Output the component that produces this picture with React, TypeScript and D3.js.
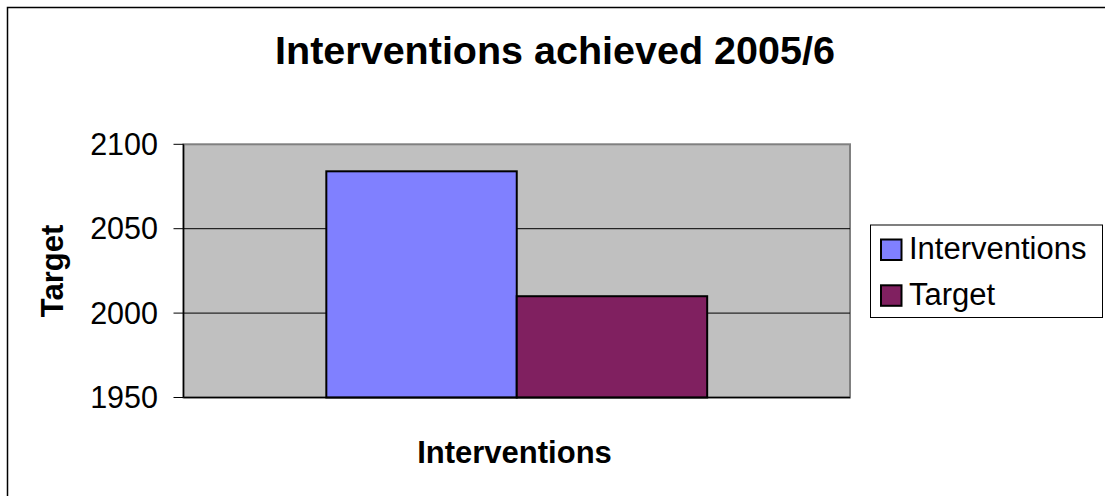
import React from "react";
import * as d3 from "d3";

// Chart data
const categories: string[] = ["Interventions"];
const seriesNames: string[] = ["Interventions", "Target"];
const seriesValues: number[] = [2084, 2010];
const seriesColors: string[] = ["#8080FF", "#802060"];
const yTicks: number[] = [1950, 2000, 2050, 2100];

const title = "Interventions achieved 2005/6";
const xTitle = "Interventions";
const yTitle = "Target";

const W = 1105;
const H = 496;
const FONT = "'Liberation Sans', Arial, Helvetica, sans-serif";

export default function App() {
  const plot = { left: 183.5, right: 850, top: 144.3, bottom: 397.5 };

  const x0 = d3
    .scaleBand<string>()
    .domain(categories)
    .range([plot.left, plot.right])
    .paddingInner(0)
    .paddingOuter(0.375);
  const x1 = d3
    .scaleBand<string>()
    .domain(seriesNames)
    .range([0, x0.bandwidth()])
    .padding(0);
  const y = d3.scaleLinear().domain([1950, 2100]).range([plot.bottom, plot.top]);

  const legend = { x: 870.5, y: 225, w: 232, h: 92.5 };

  return (
    <svg
      width={W}
      height={H}
      style={{ position: "absolute", left: 0, top: 0, background: "#fff" }}
      fontFamily={FONT}
    >
      <rect x={0} y={0} width={W} height={H} fill="#fff" />
      {/* chart area frame */}
      <rect x={7.5} y={7.5} width={W + 20} height={H + 20} fill="none" stroke="#000" strokeWidth={1.5} />

      {/* title */}
      <text x={555} y={64.3} textAnchor="middle" fontSize={39.5} fontWeight="bold" fill="#000">
        {title}
      </text>

      {/* plot area */}
      <rect
        x={plot.left}
        y={plot.top}
        width={plot.right - plot.left}
        height={plot.bottom - plot.top}
        fill="#C0C0C0"
        stroke="#808080"
        strokeWidth={2}
      />

      {/* gridlines */}
      {yTicks
        .filter((t) => t !== 1950 && t !== 2100)
        .map((t) => (
          <line key={`g${t}`} x1={plot.left} x2={plot.right} y1={y(t)} y2={y(t)} stroke="#000" strokeWidth={1} />
        ))}

      {/* bars */}
      {categories.map((c) => (
        <g key={c} transform={`translate(${x0(c)},0)`}>
          {seriesNames.map((s, i) => (
            <rect
              key={s}
              x={x1(s)}
              y={y(seriesValues[i])}
              width={x1.bandwidth()}
              height={y(1950) - y(seriesValues[i])}
              fill={seriesColors[i]}
              stroke="#000"
              strokeWidth={2}
            />
          ))}
        </g>
      ))}

      {/* axes */}
      <line x1={plot.left} x2={plot.left} y1={plot.top} y2={plot.bottom} stroke="#000" strokeWidth={1.5} />
      <line x1={plot.left} x2={plot.right} y1={plot.bottom} y2={plot.bottom} stroke="#000" strokeWidth={1.5} />
      {yTicks.map((t) => (
        <g key={`t${t}`}>
          <line x1={plot.left - 10} x2={plot.left} y1={y(t)} y2={y(t)} stroke="#000" strokeWidth={1} />
          <text x={158} y={y(t) + 10.5} textAnchor="end" fontSize={30.5} fill="#000">
            {t}
          </text>
        </g>
      ))}

      {/* axis titles */}
      <text x={514.5} y={462.7} textAnchor="middle" fontSize={31} fontWeight="bold" fill="#000">
        {xTitle}
      </text>
      <text
        transform={`translate(63,271) rotate(-90)`}
        textAnchor="middle"
        fontSize={31}
        fontWeight="bold"
        fill="#000"
      >
        {yTitle}
      </text>

      {/* legend */}
      <rect x={legend.x} y={legend.y} width={legend.w} height={legend.h} fill="#fff" stroke="#000" strokeWidth={1} />
      {seriesNames.map((s, i) => (
        <g key={`l${s}`}>
          <rect
            x={881}
            y={239.5 + i * 45.8}
            width={20.5}
            height={20.5}
            fill={seriesColors[i]}
            stroke="#000"
            strokeWidth={2}
          />
          <text x={909} y={259.3 + i * 45.8} fontSize={31} fill="#000">
            {s}
          </text>
        </g>
      ))}
    </svg>
  );
}
